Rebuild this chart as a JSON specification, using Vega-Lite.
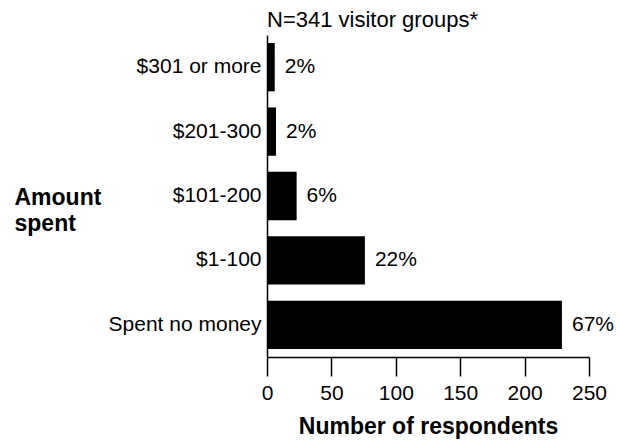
{
  "$schema": "https://vega.github.io/schema/vega-lite/v6.json",
  "autosize": {"type": "none"},
  "padding": {"left": 267, "top": 35, "right": 31, "bottom": 83},
  "width": 322,
  "height": 322,
  "background": "white",
  "config": {
    "font": "Liberation Sans",
    "view": {"stroke": null}
  },
  "title": {
    "text": "N=341 visitor groups*",
    "anchor": "start",
    "frame": "group",
    "fontSize": 22,
    "fontWeight": "normal",
    "color": "black",
    "font": "Liberation Sans",
    "baseline": "alphabetic",
    "offset": 8,
    "dy": 22
  },
  "data": {
    "values": [
      {"amount": "$301 or more", "count": 6, "pct": "2%"},
      {"amount": "$201-300", "count": 7, "pct": "2%"},
      {"amount": "$101-200", "count": 23, "pct": "6%"},
      {"amount": "$1-100", "count": 76, "pct": "22%"},
      {"amount": "Spent no money", "count": 229, "pct": "67%"}
    ]
  },
  "encoding": {
    "y": {
      "field": "amount",
      "type": "nominal",
      "sort": ["$301 or more", "$201-300", "$101-200", "$1-100", "Spent no money"],
      "scale": {"paddingInner": 0.25, "paddingOuter": 0.125},
      "axis": {
        "title": ["Amount", "spent"],
        "titleAngle": 0,
        "titleAlign": "left",
        "titleBaseline": "alphabetic",
        "titleX": -253,
        "titleY": 169,
        "titleFontSize": 23,
        "titleFontWeight": "bold",
        "titleLineHeight": 26,
        "titleColor": "black",
        "ticks": false,
        "labelPadding": 6,
        "labelFontSize": 21,
        "labelColor": "black",
        "domainColor": "black",
        "domainWidth": 1.5
      }
    },
    "x": {
      "field": "count",
      "type": "quantitative",
      "scale": {"domain": [0, 250], "nice": false},
      "axis": {
        "title": "Number of respondents",
        "values": [0, 50, 100, 150, 200, 250],
        "grid": false,
        "tickSize": 19,
        "tickWidth": 1.5,
        "tickColor": "black",
        "domainColor": "black",
        "domainWidth": 1.5,
        "labelFontSize": 21,
        "labelColor": "black",
        "labelPadding": 6,
        "labelFlush": false,
        "titleFontSize": 23,
        "titleFontWeight": "bold",
        "titleColor": "black",
        "titlePadding": 12
      }
    }
  },
  "layer": [
    {"mark": {"type": "bar", "color": "black"}},
    {
      "mark": {"type": "text", "align": "left", "baseline": "middle", "dx": 10, "fontSize": 21, "color": "black"},
      "encoding": {"text": {"field": "pct"}}
    }
  ]
}
